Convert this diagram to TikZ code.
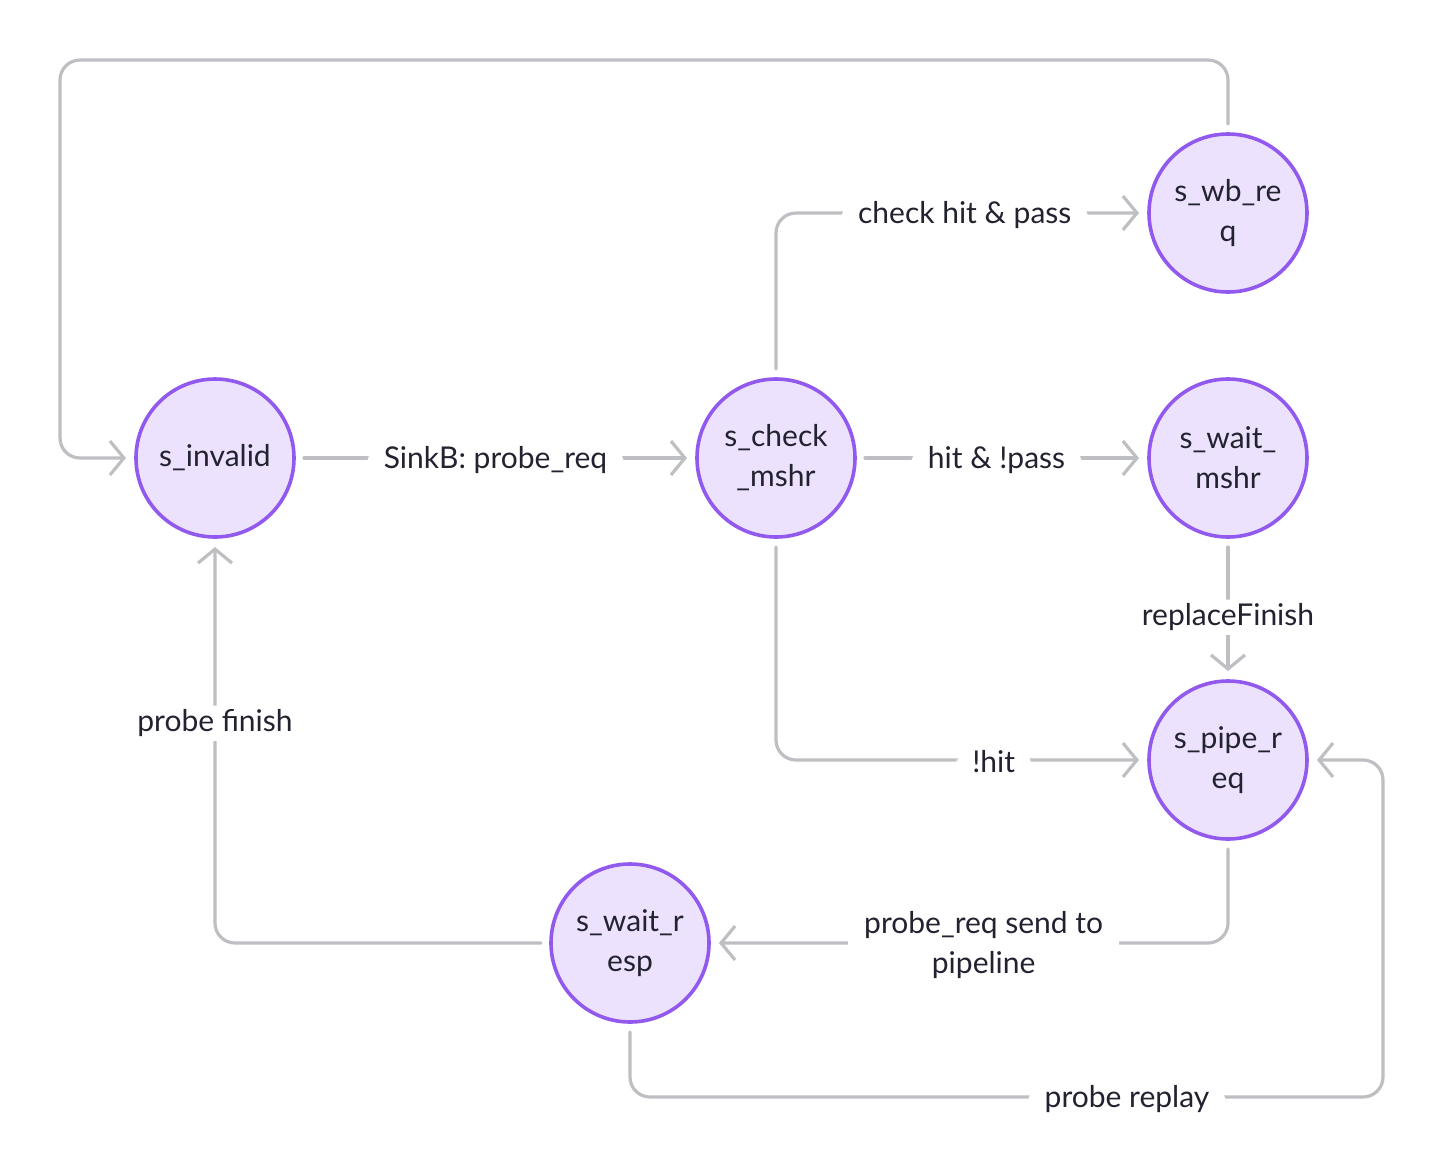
\documentclass[tikz,border=0pt]{standalone}
\usepackage{fontspec}
\setmainfont{Lato}
\usepackage{tikz}
\usetikzlibrary{arrows.meta}
\definecolor{edgegrey}{HTML}{BEBFC3}
\definecolor{statefill}{HTML}{ECE2FD}
\definecolor{stateline}{HTML}{9159EE}
\definecolor{textdark}{HTML}{222230}
\tikzset{
  state/.style={circle,draw=stateline,fill=statefill,line width=1.8pt,minimum size=79pt,inner sep=0pt,align=center,outer sep=5pt,text=textdark},
  trans/.style={draw=edgegrey,line width=1.6pt,rounded corners=10pt,-{Straight Barb[length=7pt,width=17pt,line width=1.6pt]}},
  lbl/.style={fill=white,inner xsep=8pt,inner ysep=2pt,align=center,text=textdark,yshift=-1pt}
}
\begin{document}
\begin{tikzpicture}[line cap=round,line join=round,x=0.5pt,y=-0.5pt,font=\fontsize{15}{20}\selectfont]
\useasboundingbox (0,0) rectangle (1448,1174);
\node[state] (inv) at (215,458) {s\_invalid};
\node[state] (chk) at (776,458) {s\_check\\\_mshr};
\node[state] (wb) at (1228,213) {s\_wb\_re\\q};
\node[state] (wmshr) at (1228,458) {s\_wait\_\\mshr};
\node[state] (pipe) at (1228,760) {s\_pipe\_r\\eq};
\node[state] (resp) at (630,943) {s\_wait\_r\\esp};
\coordinate (tl) at (60,60);
\coordinate (br) at (1383,1097);
\draw[trans] (inv) -- node[lbl] (l1) {SinkB: probe\_req} (chk);
\draw[trans] (chk.north) |- node[lbl,pos=0.76] (l2) {check hit \& pass} (wb.west);
\draw[trans] (chk) -- node[lbl,pos=0.48] (l3) {hit \& !pass} (wmshr);
\draw[trans] (chk.south) |- node[lbl,pos=0.8] (l4) {!hit} (pipe.west);
\draw[trans] (wmshr) -- node[lbl,pos=0.55] (l5) {replaceFinish} (pipe);
\draw[trans] (wb.north) |- (tl) |- (inv.west);
\draw[trans] (pipe.south) |- node[lbl,pos=0.74] (l6) {probe\_req send to\\pipeline} (resp.east);
\draw[trans] (resp.west) -| node[lbl,pos=0.78] (l7) {probe finish} (inv.south);
\draw[trans] (resp.south) |- node[lbl,pos=0.83] (l8) {probe replay} (br) |- (pipe.east);
\end{tikzpicture}
\end{document}
